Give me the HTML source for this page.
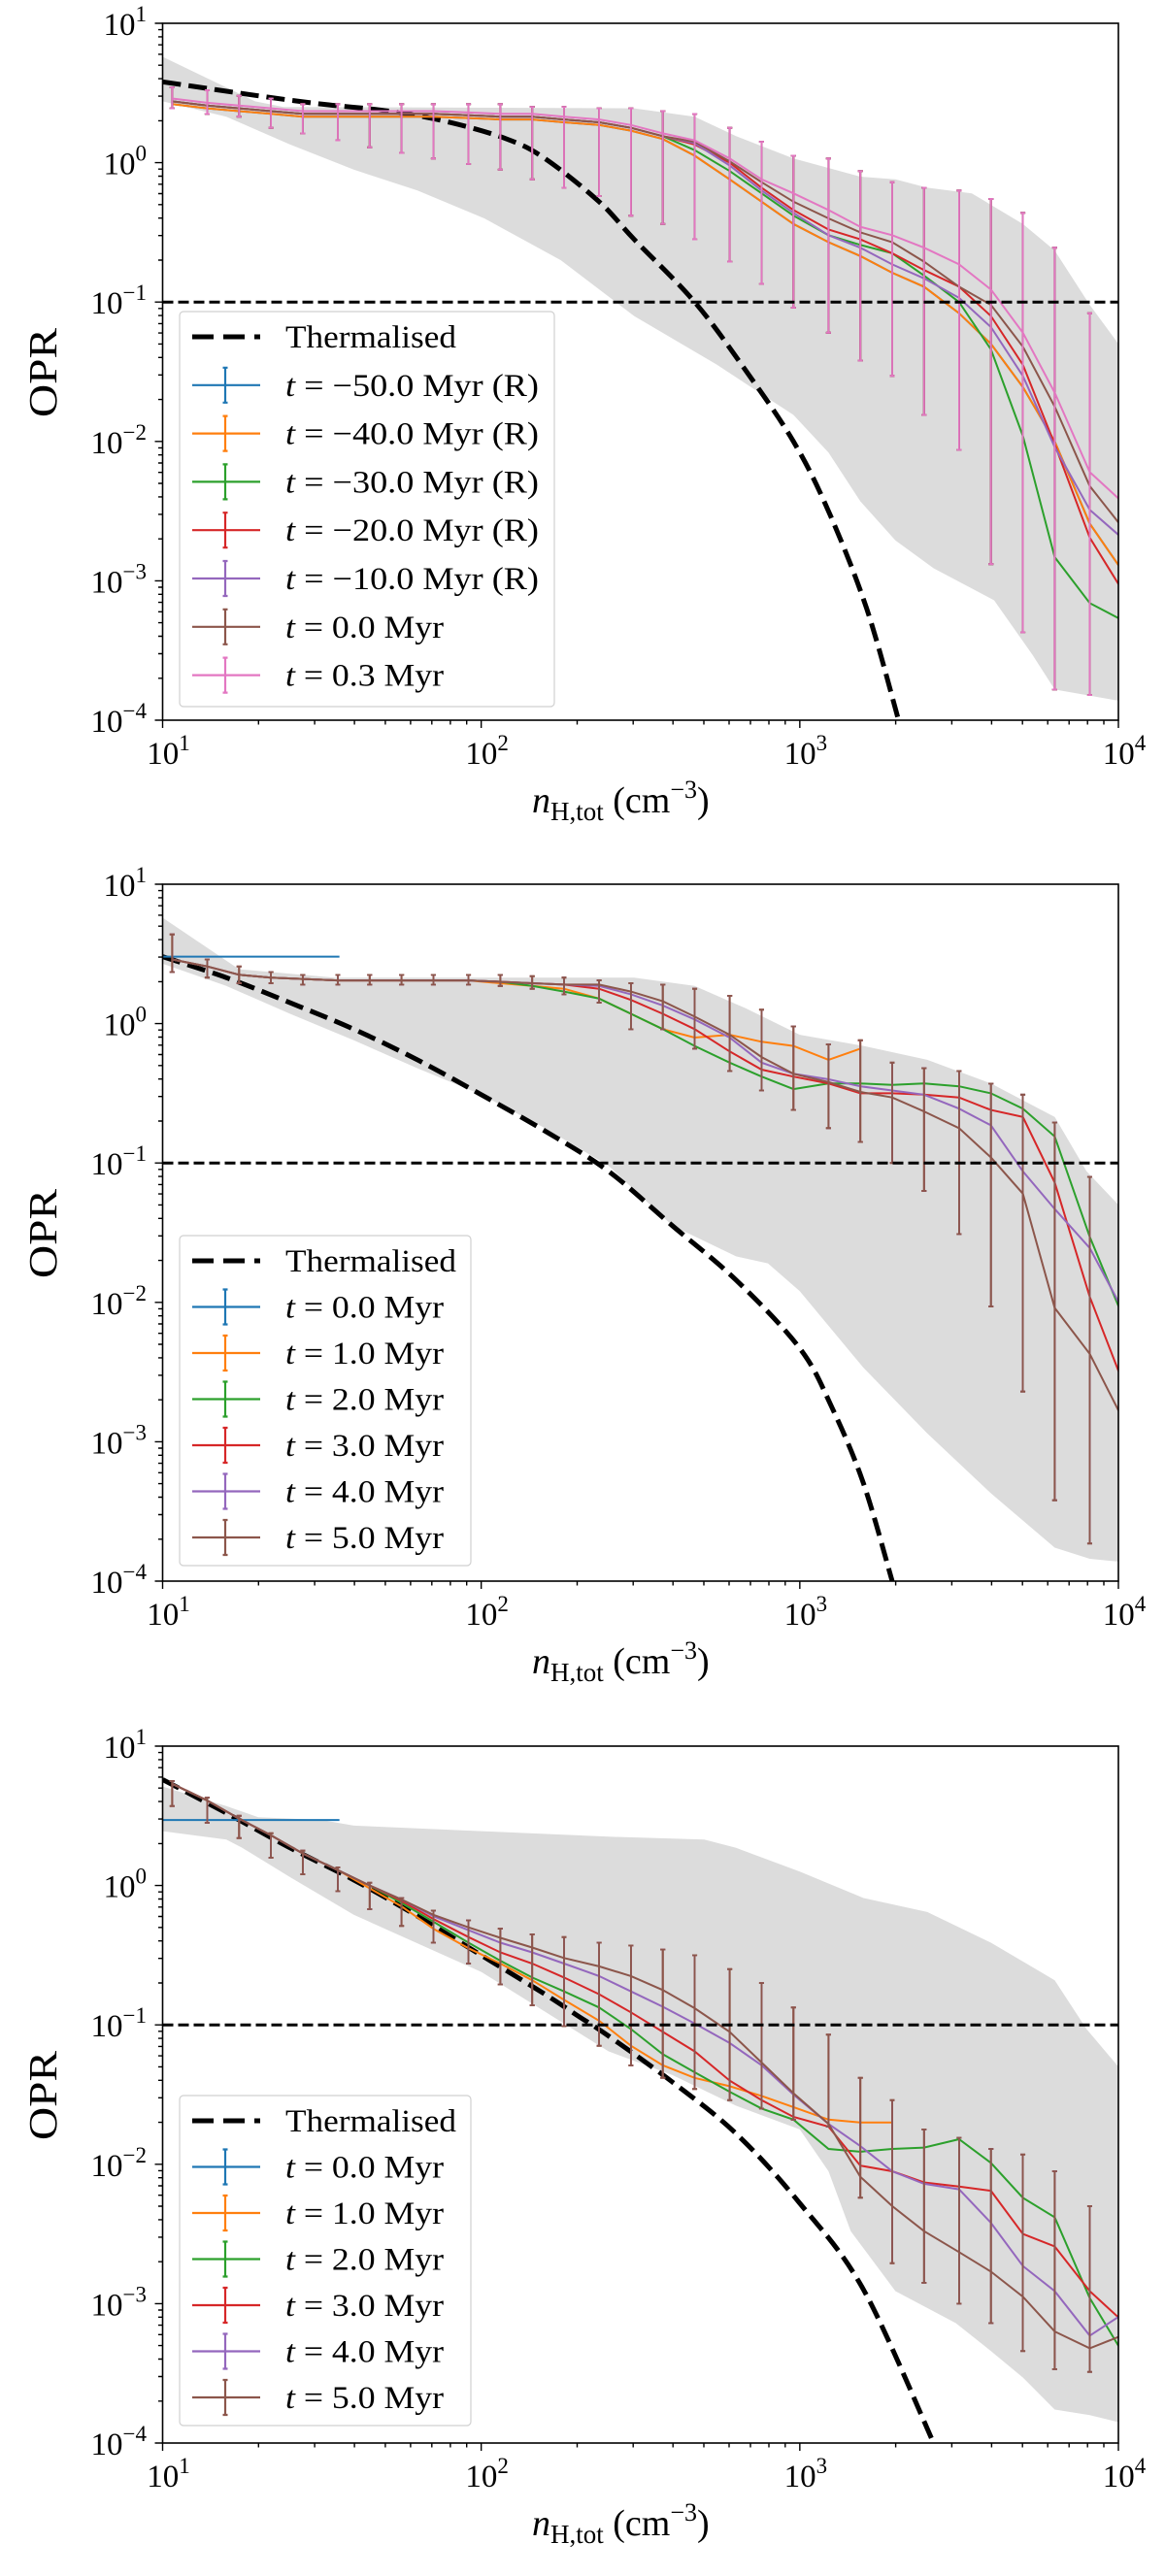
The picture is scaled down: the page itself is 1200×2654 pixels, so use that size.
<!DOCTYPE html>
<html><head><meta charset="utf-8"><title>OPR vs density</title>
<style>
html,body{margin:0;padding:0;background:#fff;}
svg{display:block;font-family:"Liberation Serif",serif;}
</style></head>
<body>
<svg id="fig" xmlns="http://www.w3.org/2000/svg" width="1200" height="2654" viewBox="0 0 1200 2654"></svg>
<script>
// ---------- DATA (log10 values) ----------
const logDensity = [1.03,1.14,1.24,1.34,1.44,1.55,1.65,1.75,1.85,1.96,2.06,2.16,2.26,2.37,2.47,2.57,2.67,2.78,2.88,2.98,3.09,3.19,3.29,3.39,3.50,3.60,3.70,3.80,3.91,4.01];

// Panel 1
const p1Labels = ["\u221250.0 Myr (R)","\u221240.0 Myr (R)","\u221230.0 Myr (R)","\u221220.0 Myr (R)","\u221210.0 Myr (R)","0.0 Myr","0.3 Myr"];
const p1Blue   = [0.42,0.39,0.37,0.35,0.33,0.33,0.33,0.33,0.33,0.32,0.31,0.31,0.29,0.27,0.23,0.17,0.05,-0.12,-0.28,-0.44,-0.57,-0.67,-0.79,-0.89,-1.08,-1.30,-1.61,-2.00,-2.59,-2.92];
const p1Orange = [0.42,0.39,0.37,0.35,0.33,0.33,0.33,0.33,0.33,0.32,0.31,0.31,0.29,0.27,0.23,0.17,0.05,-0.12,-0.28,-0.44,-0.57,-0.67,-0.79,-0.89,-1.08,-1.30,-1.61,-2.00,-2.59,-2.92];
const p1Green  = [0.44,0.41,0.39,0.37,0.35,0.35,0.35,0.35,0.35,0.34,0.33,0.33,0.31,0.29,0.25,0.19,0.09,-0.06,-0.22,-0.38,-0.52,-0.59,-0.65,-0.81,-1.00,-1.34,-1.96,-2.83,-3.16,-3.28];
const p1Red    = [0.44,0.41,0.39,0.37,0.35,0.35,0.35,0.35,0.35,0.34,0.33,0.33,0.31,0.29,0.25,0.19,0.13,0.00,-0.18,-0.34,-0.48,-0.55,-0.65,-0.77,-0.89,-1.10,-1.45,-2.02,-2.69,-3.06];
const p1Purple = [0.44,0.41,0.39,0.37,0.35,0.35,0.35,0.35,0.35,0.34,0.33,0.33,0.31,0.29,0.25,0.19,0.14,-0.02,-0.20,-0.36,-0.52,-0.61,-0.73,-0.83,-0.97,-1.18,-1.53,-2.04,-2.49,-2.69];
const p1Brown  = [0.44,0.41,0.39,0.37,0.35,0.35,0.35,0.35,0.35,0.34,0.33,0.33,0.31,0.29,0.25,0.19,0.15,0.01,-0.14,-0.28,-0.40,-0.50,-0.57,-0.71,-0.89,-1.02,-1.32,-1.75,-2.32,-2.61];
const p1Pink   = [0.46,0.43,0.41,0.39,0.37,0.37,0.37,0.37,0.37,0.36,0.35,0.35,0.33,0.31,0.27,0.21,0.16,0.03,-0.12,-0.22,-0.34,-0.46,-0.52,-0.61,-0.73,-0.91,-1.22,-1.65,-2.22,-2.43];
const p1ErrHi  = [0.54,0.52,0.48,0.46,0.42,0.42,0.42,0.42,0.42,0.42,0.42,0.40,0.40,0.39,0.39,0.37,0.35,0.25,0.15,0.05,0.03,-0.06,-0.14,-0.18,-0.20,-0.26,-0.36,-0.61,-1.08];
const p1ErrLo  = [0.39,0.35,0.33,0.25,0.21,0.16,0.11,0.07,0.03,-0.01,-0.05,-0.12,-0.18,-0.24,-0.38,-0.44,-0.55,-0.71,-0.87,-1.04,-1.22,-1.42,-1.53,-1.81,-2.06,-2.88,-3.37,-3.78,-3.82];
const p1BandUpX  = [1.0,1.29,1.38,2.48,2.67,2.80,2.98,3.19,3.30,3.40,3.54,3.70,3.80,3.91,4.0];
const p1BandUp   = [0.76,0.44,0.40,0.39,0.33,0.19,0.03,-0.10,-0.12,-0.18,-0.22,-0.44,-0.63,-1.02,-1.30];
const p1BandLowX = [1.0,1.20,1.40,1.60,1.80,2.01,2.25,2.48,2.74,2.98,3.09,3.19,3.30,3.42,3.61,3.73,3.80,4.0];
const p1BandLow  = [0.44,0.33,0.13,-0.05,-0.20,-0.40,-0.70,-1.10,-1.45,-1.81,-2.08,-2.43,-2.71,-2.91,-3.14,-3.53,-3.78,-3.86];
const p1ThermX = [1.0,1.30,1.50,1.71,1.90,2.08,2.20,2.37,2.48,2.67,2.83,2.98,3.09,3.21,3.31];
const p1ThermY = [0.58,0.48,0.42,0.37,0.29,0.17,0.03,-0.28,-0.55,-1.0,-1.49,-2.0,-2.5,-3.2,-4.0];

// Panel 2
const p2Labels = ["0.0 Myr","1.0 Myr","2.0 Myr","3.0 Myr","4.0 Myr","5.0 Myr"];
const p2BlueX  = [1.0,1.555];
const p2BlueY  = [0.48,0.48];
const p2Orange = [0.46,0.41,0.35,0.33,0.32,0.31,0.31,0.31,0.31,0.31,0.29,0.27,0.25,0.18,0.07,-0.04,-0.10,-0.08,-0.13,-0.16,-0.26,-0.18,null,-0.26,null,null,null,null,null,null];
const p2Green  = [0.46,0.41,0.35,0.33,0.32,0.31,0.31,0.31,0.31,0.31,0.30,0.27,0.23,0.18,0.07,-0.04,-0.16,-0.28,-0.38,-0.47,-0.43,-0.43,-0.44,-0.43,-0.45,-0.50,-0.61,-0.81,-1.53,-2.08];
const p2Red    = [0.46,0.41,0.35,0.33,0.32,0.31,0.31,0.31,0.31,0.31,0.30,0.29,0.28,0.25,0.17,0.07,-0.04,-0.20,-0.33,-0.38,-0.43,-0.50,-0.50,-0.51,-0.53,-0.62,-0.67,-1.14,-1.96,-2.55];
const p2Purple = [0.46,0.41,0.35,0.33,0.32,0.31,0.31,0.31,0.31,0.31,0.30,0.29,0.28,0.27,0.21,0.13,0.03,-0.10,-0.28,-0.36,-0.40,-0.45,-0.48,-0.51,-0.61,-0.73,-1.06,-1.33,-1.61,-2.04];
const p2Brown  = [0.46,0.41,0.35,0.33,0.32,0.31,0.31,0.31,0.31,0.31,0.30,0.29,0.28,0.28,0.23,0.16,0.05,-0.08,-0.24,-0.36,-0.42,-0.49,-0.53,-0.63,-0.75,-0.96,-1.22,-2.04,-2.37,-2.82];
const p2ErrHi  = [0.64,0.46,0.41,0.37,0.35,0.35,0.35,0.35,0.35,0.35,0.35,0.34,0.33,0.31,0.29,0.28,0.25,0.20,0.10,-0.02,-0.15,-0.12,-0.28,-0.32,-0.34,-0.43,-0.51,-0.71,-1.10];
const p2ErrLo  = [0.37,0.33,0.29,0.29,0.28,0.28,0.28,0.28,0.28,0.28,0.27,0.25,0.21,0.15,-0.04,-0.04,-0.18,-0.34,-0.48,-0.62,-0.75,-0.85,-1.00,-1.20,-1.51,-2.03,-2.64,-3.42,-3.73];
const p2BandUpX  = [1.0,1.24,1.54,2.48,2.67,2.83,3.0,3.20,3.40,3.60,3.80,3.90,4.0];
const p2BandUp   = [0.76,0.39,0.33,0.33,0.27,0.11,-0.08,-0.16,-0.26,-0.43,-0.67,-1.06,-1.30];
const p2BandLowX = [1.0,1.2,1.4,1.6,1.8,2.0,2.2,2.4,2.6,2.8,2.9,3.0,3.2,3.4,3.6,3.8,3.91,4.0];
const p2BandLow  = [0.43,0.27,0.07,-0.12,-0.32,-0.51,-0.75,-1.02,-1.45,-1.67,-1.72,-1.92,-2.47,-2.94,-3.37,-3.76,-3.84,-3.86];
const p2ThermX = [1.0,1.2,1.4,1.6,1.8,2.0,2.2,2.4,2.6,2.8,3.0,3.1,3.2,3.29];
const p2ThermY = [0.48,0.33,0.15,-0.04,-0.26,-0.51,-0.77,-1.06,-1.45,-1.84,-2.33,-2.75,-3.3,-4.0];

// Panel 3
const p3Labels = ["0.0 Myr","1.0 Myr","2.0 Myr","3.0 Myr","4.0 Myr","5.0 Myr"];
const p3BlueX  = [1.0,1.555];
const p3BlueY  = [0.47,0.47];
const p3Orange = [0.73,0.61,0.48,0.36,0.23,0.11,-0.02,-0.15,-0.31,-0.45,-0.56,-0.68,-0.82,-0.97,-1.15,-1.29,-1.38,-1.44,-1.51,-1.59,-1.68,-1.70,-1.70,null,null,null,null,null,null,null];
const p3Green  = [0.73,0.61,0.48,0.36,0.23,0.11,0.0,-0.125,-0.26,-0.41,-0.54,-0.66,-0.76,-0.875,-1.03,-1.21,-1.34,-1.48,-1.60,-1.68,-1.89,-1.91,-1.89,-1.88,-1.82,-1.99,-2.24,-2.38,-2.96,-3.34];
const p3Red    = [0.73,0.61,0.48,0.36,0.23,0.11,0.0,-0.11,-0.24,-0.37,-0.48,-0.56,-0.66,-0.78,-0.91,-1.05,-1.19,-1.40,-1.54,-1.66,-1.73,-2.01,-2.05,-2.13,-2.16,-2.19,-2.50,-2.59,-2.91,-3.12];
const p3Purple = [0.73,0.61,0.48,0.36,0.23,0.11,0.0,-0.10,-0.22,-0.32,-0.41,-0.48,-0.56,-0.65,-0.76,-0.87,-0.99,-1.13,-1.29,-1.50,-1.71,-1.87,-2.05,-2.14,-2.18,-2.42,-2.73,-2.91,-3.23,-3.08];
const p3Brown  = [0.73,0.61,0.48,0.36,0.23,0.11,0.0,-0.10,-0.21,-0.30,-0.375,-0.445,-0.52,-0.58,-0.65,-0.75,-0.88,-1.05,-1.27,-1.49,-1.71,-2.09,-2.30,-2.48,-2.63,-2.77,-2.95,-3.20,-3.32,-3.23];
const p3ErrHi  = [0.75,0.63,0.50,0.375,0.25,0.13,0.02,-0.09,-0.18,-0.25,-0.31,-0.35,-0.37,-0.41,-0.43,-0.46,-0.50,-0.60,-0.70,-0.875,-1.07,-1.38,-1.54,-1.75,-1.81,-1.89,-1.93,-2.05,-2.30];
const p3ErrLo  = [0.57,0.45,0.34,0.20,0.08,-0.04,-0.17,-0.29,-0.41,-0.56,-0.71,-0.86,-1.01,-1.15,-1.29,-1.38,-1.46,-1.54,-1.60,-1.68,-1.73,-2.24,-2.71,-2.85,-3.00,-3.14,-3.34,-3.47,-3.49];
const p3BandUpX  = [1.0,1.2,1.3,1.5,1.6,1.8,2.0,2.4,2.7,2.8,3.0,3.2,3.4,3.6,3.8,3.9,4.0];
const p3BandUp   = [0.71,0.57,0.49,0.47,0.43,0.41,0.39,0.35,0.33,0.27,0.10,-0.09,-0.19,-0.41,-0.68,-1.03,-1.30];
const p3BandLowX = [1.0,1.2,1.25,1.4,1.6,2.0,2.4,2.6,2.8,3.0,3.09,3.16,3.30,3.49,3.60,3.70,3.80,3.91,4.0];
const p3BandLow  = [0.39,0.33,0.27,0.06,-0.21,-0.62,-1.19,-1.36,-1.58,-1.75,-2.05,-2.48,-2.91,-3.14,-3.34,-3.53,-3.76,-3.80,-3.85];
const p3ThermX = [1.0,1.2,1.4,1.6,1.8,2.0,2.2,2.3,2.4,2.6,2.8,3.0,3.2,3.42];
const p3ThermY = [0.76,0.52,0.27,0.04,-0.22,-0.50,-0.78,-0.93,-1.08,-1.41,-1.78,-2.28,-2.90,-4.0];

// ---------- LAYOUT ----------
const NS = "http://www.w3.org/2000/svg";
const svg = document.getElementById('fig');
const AX_L = 167.5, AX_W = 984.5, AX_H = 718;
const C = {blue:"#1f77b4",orange:"#ff7f0e",green:"#2ca02c",red:"#d62728",purple:"#9467bd",brown:"#8c564b",pink:"#e377c2"};

function mk(tag, attrs, parent){
  const el = document.createElementNS(NS, tag);
  for (const k in attrs) el.setAttribute(k, attrs[k]);
  (parent||svg).appendChild(el);
  return el;
}

function buildPanel(idx, top, series, errHi, errLo, bandUpX, bandUp, bandLowX, bandLow, thermX, thermY, blueLine, legend){
  const X = lx => AX_L + (lx-1)/3*AX_W;
  const Y = ly => top + (1-ly)/5*AX_H;
  const g = mk('g', {});
  
  

  const cp = mk('clipPath', {id:'clip'+idx}, g);
  mk('rect', {x:AX_L, y:top, width:AX_W, height:AX_H}, cp);
  const plot = mk('g', {'clip-path':'url(#clip'+idx+')'}, g);
  
  

  let d = '';
  bandUpX.forEach((x,i)=>{ d += (i?'L':'M') + X(x).toFixed(1) + ' ' + Y(bandUp[i]).toFixed(1) + ' '; });
  for (let i = bandLowX.length-1; i >= 0; i--) d += 'L' + X(bandLowX[i]).toFixed(1) + ' ' + Y(bandLow[i]).toFixed(1) + ' ';
  const band = mk('path', {d:d+'Z', fill:'#dcdcdc', stroke:'none'}, plot);
  
  

  const pts = thermX.map((x,i)=>[X(x), Y(thermY[i])]);
  let td = 'M' + pts[0][0] + ' ' + pts[0][1];
  for (let i = 0; i < pts.length-1; i++){
    const p0 = pts[Math.max(0,i-1)], p1 = pts[i], p2 = pts[i+1], p3 = pts[Math.min(pts.length-1,i+2)];
    const c1 = [p1[0]+(p2[0]-p0[0])/6, p1[1]+(p2[1]-p0[1])/6];
    const c2 = [p2[0]-(p3[0]-p1[0])/6, p2[1]-(p3[1]-p1[1])/6];
    td += ' C' + c1.join(' ') + ' ' + c2.join(' ') + ' ' + p2.join(' ');
  }
  const therm = mk('path', {d:td, fill:'none', stroke:'#000', 'stroke-width':5, 'stroke-dasharray':'19 8'}, plot);
  
  

  const thr = mk('line', {x1:AX_L, x2:AX_L+AX_W, y1:Y(-1), y2:Y(-1), stroke:'#000', 'stroke-width':3, 'stroke-dasharray':'11 5'}, g);
  
  

  if (blueLine){
    const bl = mk('polyline', {points: blueLine.x.map((x,i)=>X(x)+','+Y(blueLine.y[i])).join(' '), fill:'none', stroke:C.blue, 'stroke-width':2}, plot);
    
    
  }

  series.forEach(s => {
    const sg = mk('g', {}, plot);
    
    
    let seg = [];
    const flush = () => {
      if (seg.length > 1){
        const pl = mk('polyline', {points: seg.join(' '), fill:'none', stroke:s.color, 'stroke-width':2}, sg);
        
        
      }
      seg = [];
    };
    s.values.forEach((v,i) => {
      if (v === null) { flush(); return; }
      seg.push(X(logDensity[i]).toFixed(1) + ',' + Y(v).toFixed(1));
    });
    flush();
    s.values.forEach((v,i) => {
      if (v === null || i >= errHi.length) return;
      const x = X(logDensity[i]);
      const y1 = Y(errHi[i]), y2 = Y(errLo[i]);
      const eb = mk('path', {d:'M'+x+' '+y1+' V'+y2+' M'+(x-2.5)+' '+y1+' h5 M'+(x-2.5)+' '+y2+' h5', stroke:s.color, 'stroke-width':1.8, fill:'none'}, sg);
      
      
    });
  });

  const fr = mk('rect', {x:AX_L, y:top, width:AX_W, height:AX_H, fill:'none', stroke:'#000', 'stroke-width':1.6}, g);
  
  

  let tk = '';
  for (let dcd = 1; dcd <= 4; dcd++){
    tk += 'M'+X(dcd)+' '+(top+AX_H)+' v8 ';
    if (dcd < 4) for (let m = 2; m <= 9; m++) tk += 'M'+X(dcd+Math.log10(m)).toFixed(1)+' '+(top+AX_H)+' v4.5 ';
  }
  for (let dcd = -4; dcd <= 1; dcd++){
    tk += 'M'+AX_L+' '+Y(dcd)+' h-8 ';
    if (dcd < 1) for (let m = 2; m <= 9; m++) tk += 'M'+AX_L+' '+Y(dcd+Math.log10(m)).toFixed(1)+' h-4.5 ';
  }
  const ticks = mk('path', {d:tk, stroke:'#000', 'stroke-width':1.4, fill:'none'}, g);
  
  

  for (let dcd = 1; dcd <= 4; dcd++){
    const t = mk('text', {x:X(dcd)+6, y:top+AX_H+45, 'font-size':33, 'text-anchor':'middle'}, g);
    
    
    t.innerHTML = '10<tspan dy="-14" font-size="23">' + dcd + '</tspan>';
  }
  for (let dcd = -4; dcd <= 1; dcd++){
    const t = mk('text', {x:151, y:Y(dcd)+12, 'font-size':33, 'text-anchor':'end'}, g);
    
    
    t.innerHTML = '10<tspan dy="-14" font-size="23">' + (dcd < 0 ? '\u2212' + (-dcd) : dcd) + '</tspan>';
  }

  const xl = mk('text', {x:548, y:top+AX_H+95, 'font-size':38}, g);
  
  
  xl.innerHTML = '<tspan font-style="italic">n</tspan><tspan font-size="27" dy="8">H,tot</tspan><tspan dy="-8"> (cm</tspan><tspan font-size="26" dy="-15">\u22123</tspan><tspan dy="15">)</tspan>';
  const yl = mk('text', {x:0, y:0, 'font-size':41, 'text-anchor':'middle', transform:'translate(58,'+(top+360)+') rotate(-90)', textLength:92, lengthAdjust:'spacingAndGlyphs'}, g);
  
  
  yl.textContent = 'OPR';

  const lg = mk('g', {}, g);
  
  
  const lb = mk('rect', {x:185, y:legend.top, width:legend.w, height:legend.h, rx:4, fill:'#fff', 'fill-opacity':0.8, stroke:'#d0d0d0', 'stroke-width':1.2}, lg);
  
  
  const ty = legend.top + 26;
  const th = mk('line', {x1:198, x2:268, y1:ty, y2:ty, stroke:'#000', 'stroke-width':5, 'stroke-dasharray':'22 10'}, lg);
  
  
  const tt = mk('text', {x:294, y:ty+11, 'font-size':33, textLength:176, lengthAdjust:'spacingAndGlyphs'}, lg);
  
  
  tt.textContent = 'Thermalised';
  legend.entries.forEach((e,i) => {
    const y = ty + (i+1)*legend.step;
    const eg = mk('g', {}, lg);
    
    
    const h = mk('path', {d:'M198 '+y+' H268 M232 '+(y-18)+' V'+(y+18)+' M229.5 '+(y-18)+' h5 M229.5 '+(y+18)+' h5', stroke:e.color, 'stroke-width':2.2, fill:'none'}, eg);
    
    
    const lt = mk('text', {x:294, y:y+11, 'font-size':33, textLength:e.len, lengthAdjust:'spacingAndGlyphs'}, eg);
    
    
    lt.innerHTML = '<tspan font-style="italic">t</tspan> = ' + e.label;
  });
}

buildPanel(1, 24,
  [{name:'m50',color:C.blue,values:p1Blue},{name:'m40',color:C.orange,values:p1Orange},{name:'m30',color:C.green,values:p1Green},
   {name:'m20',color:C.red,values:p1Red},{name:'m10',color:C.purple,values:p1Purple},{name:'t0',color:C.brown,values:p1Brown},{name:'t03',color:C.pink,values:p1Pink}],
  p1ErrHi, p1ErrLo, p1BandUpX, p1BandUp, p1BandLowX, p1BandLow, p1ThermX, p1ThermY, null,
  {top:321, w:386, h:407, step:49.8, entries:[
    {color:C.blue,label:p1Labels[0],len:261},{color:C.orange,label:p1Labels[1],len:261},{color:C.green,label:p1Labels[2],len:261},
    {color:C.red,label:p1Labels[3],len:261},{color:C.purple,label:p1Labels[4],len:261},{color:C.brown,label:p1Labels[5],len:163},{color:C.pink,label:p1Labels[6],len:163}]});

const p23Colors = [C.blue,C.orange,C.green,C.red,C.purple,C.brown];
buildPanel(2, 911,
  [{name:'t1',color:C.orange,values:p2Orange},{name:'t2',color:C.green,values:p2Green},{name:'t3',color:C.red,values:p2Red},
   {name:'t4',color:C.purple,values:p2Purple},{name:'t5',color:C.brown,values:p2Brown}],
  p2ErrHi, p2ErrLo, p2BandUpX, p2BandUp, p2BandLowX, p2BandLow, p2ThermX, p2ThermY, {x:p2BlueX, y:p2BlueY},
  {top:1273, w:300, h:340, step:47.5, entries: p2Labels.map((l,i)=>({color:p23Colors[i], label:l, len:163}))});

buildPanel(3, 1799,
  [{name:'t1',color:C.orange,values:p3Orange},{name:'t2',color:C.green,values:p3Green},{name:'t3',color:C.red,values:p3Red},
   {name:'t4',color:C.purple,values:p3Purple},{name:'t5',color:C.brown,values:p3Brown}],
  p3ErrHi, p3ErrLo, p3BandUpX, p3BandUp, p3BandLowX, p3BandLow, p3ThermX, p3ThermY, {x:p3BlueX, y:p3BlueY},
  {top:2159, w:300, h:340, step:47.5, entries: p3Labels.map((l,i)=>({color:p23Colors[i], label:l, len:163}))});
</script>
</body></html>
